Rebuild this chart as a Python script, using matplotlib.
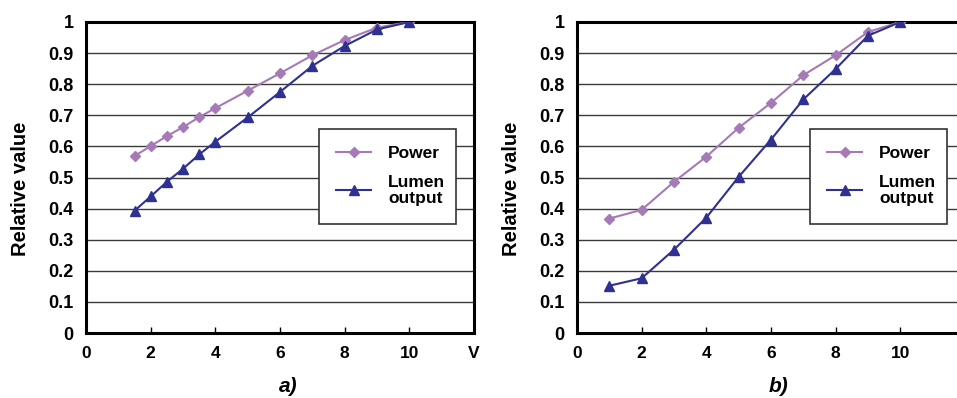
import matplotlib
matplotlib.use('Agg')
import matplotlib.pyplot as plt

# voltage steps for the two measurements
volts_a = [1.5, 2, 2.5, 3, 3.5, 4, 5, 6, 7, 8, 9, 10]
power_a = [0.569, 0.601, 0.633, 0.662, 0.694, 0.723, 0.779, 0.835, 0.893, 0.942, 0.982, 1.0]
lumen_a = [0.393, 0.439, 0.486, 0.528, 0.574, 0.615, 0.693, 0.775, 0.859, 0.923, 0.976, 1.0]

volts_b = [1, 2, 3, 4, 5, 6, 7, 8, 9, 10]
power_b = [0.368, 0.396, 0.486, 0.567, 0.660, 0.740, 0.829, 0.893, 0.968, 1.0]
lumen_b = [0.152, 0.176, 0.268, 0.371, 0.502, 0.622, 0.751, 0.849, 0.956, 1.0]

x_ticks = [0, 2, 4, 6, 8, 10, 12]
x_labels = ['0', '2', '4', '6', '8', '10', 'V']
y_ticks = [0, 0.1, 0.2, 0.3, 0.4, 0.5, 0.6, 0.7, 0.8, 0.9, 1.0]
y_labels = ['0', '0.1', '0.2', '0.3', '0.4', '0.5', '0.6', '0.7', '0.8', '0.9', '1']

plt.rcParams['font.family'] = ['Liberation Sans', 'DejaVu Sans']
plt.rcParams['font.weight'] = 'bold'

POWER_COL = '#a57ab6'
LUMEN_COL = '#2e3192'

W, H = 957, 398
fig = plt.figure(figsize=(W / 100, H / 100), dpi=100)


def draw_panel(left_px, volts, power, lumen, tag):
    ax = fig.add_axes([left_px / W, (H - 333) / H, 388 / W, 311 / H])
    for y in y_ticks[1:-1]:
        ax.axhline(y, color='#3a3a3a', lw=1.0, zorder=1)
    ax.plot(volts, power, color=POWER_COL, lw=1.5, marker='D', ms=5.5,
            label='Power', zorder=3)
    ax.plot(volts, lumen, color=LUMEN_COL, lw=1.5, marker='^', ms=7.5,
            label='Lumen\noutput', zorder=3)
    ax.set_xlim(0, 12)
    ax.set_ylim(0, 1)
    ax.set_xticks(x_ticks)
    ax.set_xticklabels(x_labels, fontsize=12.5, fontweight='bold')
    ax.set_yticks(y_ticks)
    ax.set_yticklabels(y_labels, fontsize=13, fontweight='bold')
    ax.tick_params(axis='x', direction='in', length=4, width=1, pad=9)
    ax.tick_params(axis='y', length=0, pad=9)
    for s in ax.spines.values():
        s.set_linewidth(2.2)
        s.set_color('black')
    ax.set_ylabel('Relative value', fontsize=14.5, fontweight='bold', labelpad=13)
    ax.yaxis.label.set_y(0.465)
    ax.set_xlabel(tag, fontsize=15, fontweight='bold', style='italic', labelpad=12)
    ax.xaxis.label.set_x(0.52)
    leg = ax.legend(loc='upper left', bbox_to_anchor=(0.60, 0.357, 0.354, 0.299),
                    mode='expand', fancybox=False, framealpha=1,
                    edgecolor='#333333', fontsize=12.5, handlelength=2.0,
                    borderpad=1.0, labelspacing=0.75, handletextpad=1.0,
                    borderaxespad=0)
    leg.get_frame().set_linewidth(1.2)
    for t in leg.get_texts():
        t.set_fontweight('bold')
        t.set_linespacing(1.15)
    return ax


draw_panel(86, volts_a, power_a, lumen_a, 'a)')
draw_panel(577, volts_b, power_b, lumen_b, 'b)')

fig.savefig('out.png', dpi=100)
